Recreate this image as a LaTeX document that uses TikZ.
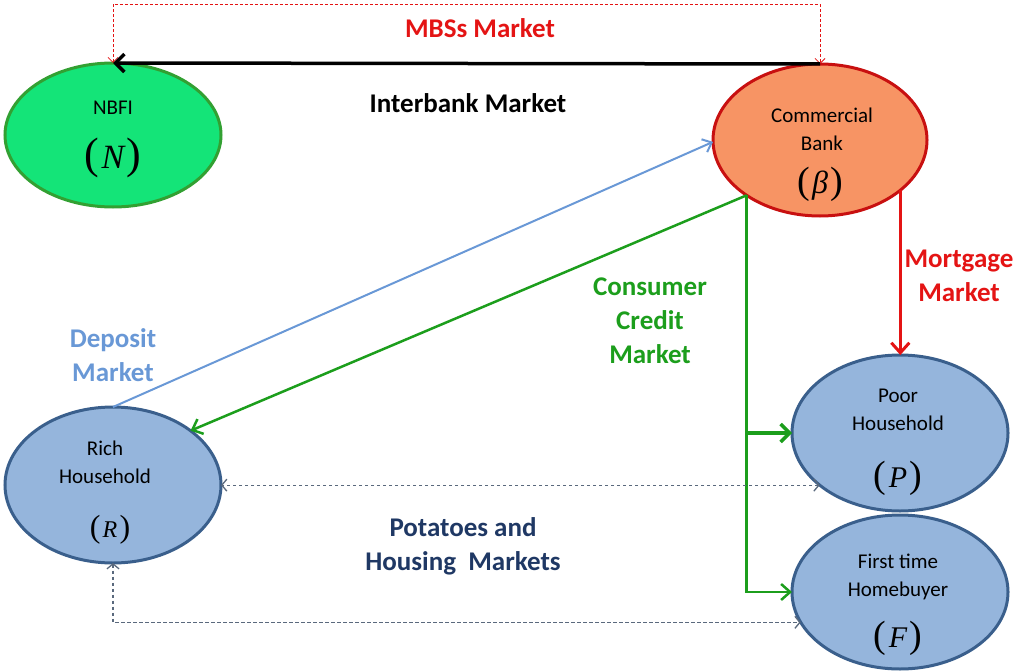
\documentclass[tikz,border=0pt]{standalone}
\usepackage{fontspec}
\setmainfont{Carlito}
\newfontfamily\serfont{Liberation Serif}
\usetikzlibrary{shapes.geometric,arrows.meta}
\definecolor{nbfill}{RGB}{20,228,120}
\definecolor{nbdraw}{RGB}{50,160,50}
\definecolor{cbfill}{RGB}{247,148,100}
\definecolor{cbdraw}{RGB}{200,16,16}
\definecolor{hhfill}{RGB}{149,181,220}
\definecolor{hhdraw}{RGB}{58,95,140}
\definecolor{bluearr}{RGB}{105,152,214}
\definecolor{greenarr}{RGB}{28,158,28}
\definecolor{redarr}{RGB}{228,20,20}
\definecolor{navy}{RGB}{31,56,100}
\definecolor{dashc}{RGB}{90,105,125}
\newcommand\mathlbl[3]{{\serfont\fontsize{#1}{#1}\selectfont(}\hspace{0.22em}{\serfont\itshape\fontsize{#2}{#2}\selectfont #3}\hspace{0.22em}{\serfont\fontsize{#1}{#1}\selectfont)}}
\tikzset{
  ell/.style={ellipse, draw, line width=3pt, inner sep=0pt, outer sep=0pt},
  intext/.style={font=\fontsize{21}{28}\selectfont, align=center, inner sep=0pt},
  lbl/.style={font=\bfseries\fontsize{27}{34}\selectfont, align=center, inner sep=0pt},
  dasharr/.style={dash pattern=on 3.5pt off 2.5pt, line width=1.3pt, draw=dashc, {Straight Barb[length=5pt,width=12pt]}-{Straight Barb[length=5pt,width=12pt]}},
}
\begin{document}
\begin{tikzpicture}[x=1pt,y=-1pt]
\useasboundingbox (0,0) rectangle (1016,671);
% ellipses
\node[ell, fill=nbfill, draw=nbdraw, minimum width=216pt, minimum height=144pt] (nb) at (113,135) {};
\node[ell, fill=cbfill, draw=cbdraw, minimum width=214pt, minimum height=152pt] (cb) at (820,140) {};
\node[ell, fill=hhfill, draw=hhdraw, minimum width=216pt, minimum height=156pt] (rh) at (113,485) {};
\node[ell, fill=hhfill, draw=hhdraw, minimum width=216pt, minimum height=156pt] (ph) at (900,433) {};
\node[ell, fill=hhfill, draw=hhdraw, minimum width=216pt, minimum height=154pt] (fh) at (900,592) {};
% texts in ellipses
\node[intext] (nbt) at (113,108) {NBFI};
\node[inner sep=0pt] (nbm) at (113,158) {\mathlbl{44}{34}{N}};
\node[intext] (cbt) at (822,129) {Commercial\\Bank};
\node[inner sep=0pt] (cbm) at (820,184) {\mathlbl{38}{32}{β}};
\node[intext] (rht) at (105,462) {Rich\\Household};
\node[inner sep=0pt] (rhm) at (110,530) {\mathlbl{32}{24}{R}};
\node[intext] (pht) at (898,410) {Poor\\Household};
\node[inner sep=0pt] (phm) at (898,478) {\mathlbl{38}{30}{P}};
\node[intext] (fht) at (898,577) {First time\\Homebuyer};
\node[inner sep=0pt] (fhm) at (898,638) {\mathlbl{38}{30}{F}};
% labels
\node[lbl, text=redarr] (mbs) at (480,28) {MBSs Market};
\node[lbl, text=black] (ib) at (468,103) {Interbank Market};
\node[lbl, text=bluearr] (dep) at (113,355) {Deposit\\Market};
\node[lbl, text=greenarr] (ccm) at (650,321) {Consumer\\Credit\\Market};
\node[lbl, text=redarr] (mort) at (959,276) {Mortgage\\Market};
\node[lbl, text=navy] (pot) at (463,546) {Potatoes and\\Housing\ \ Markets};
% connectors
\coordinate (mtop) at (470,4);
\draw[densely dashed, line width=0.8pt, draw=redarr, {Straight Barb[length=5pt,width=10pt]}-{Straight Barb[length=5pt,width=10pt]}]
  (nb.north) -- (nb.north |- mtop) -- (cb.north |- mtop) -- (cb.north);
\draw[line width=3.5pt, black, -{Straight Barb[length=9pt,width=18pt]}] (cb.north) -- (nb.north);
\draw[line width=2pt, draw=bluearr, -{Straight Barb[length=8pt,width=14pt]}] (rh.north) -- (cb.181);
\draw[line width=2.5pt, draw=greenarr, -{Straight Barb[length=9pt,width=16pt]}] (cb.217) -- (rh.35);
\draw[line width=2.5pt, draw=greenarr, -{Straight Barb[length=9pt,width=16pt]}] (cb.217) -- (cb.217 |- fh.west) -- (fh.west);
\draw[line width=3.5pt, draw=greenarr, -{Straight Barb[length=9pt,width=18pt]}] (cb.217 |- ph.west) -- (ph.west);
\draw[line width=3pt, draw=redarr, -{Straight Barb[length=10pt,width=18pt]}] (cb.-32) -- (cb.-32 |- ph.north);
\draw[dasharr] (ph.213) -- (ph.213 -| rh.east);
\draw[dasharr] (rh.south) |- (fh.197);
\end{tikzpicture}
\end{document}
